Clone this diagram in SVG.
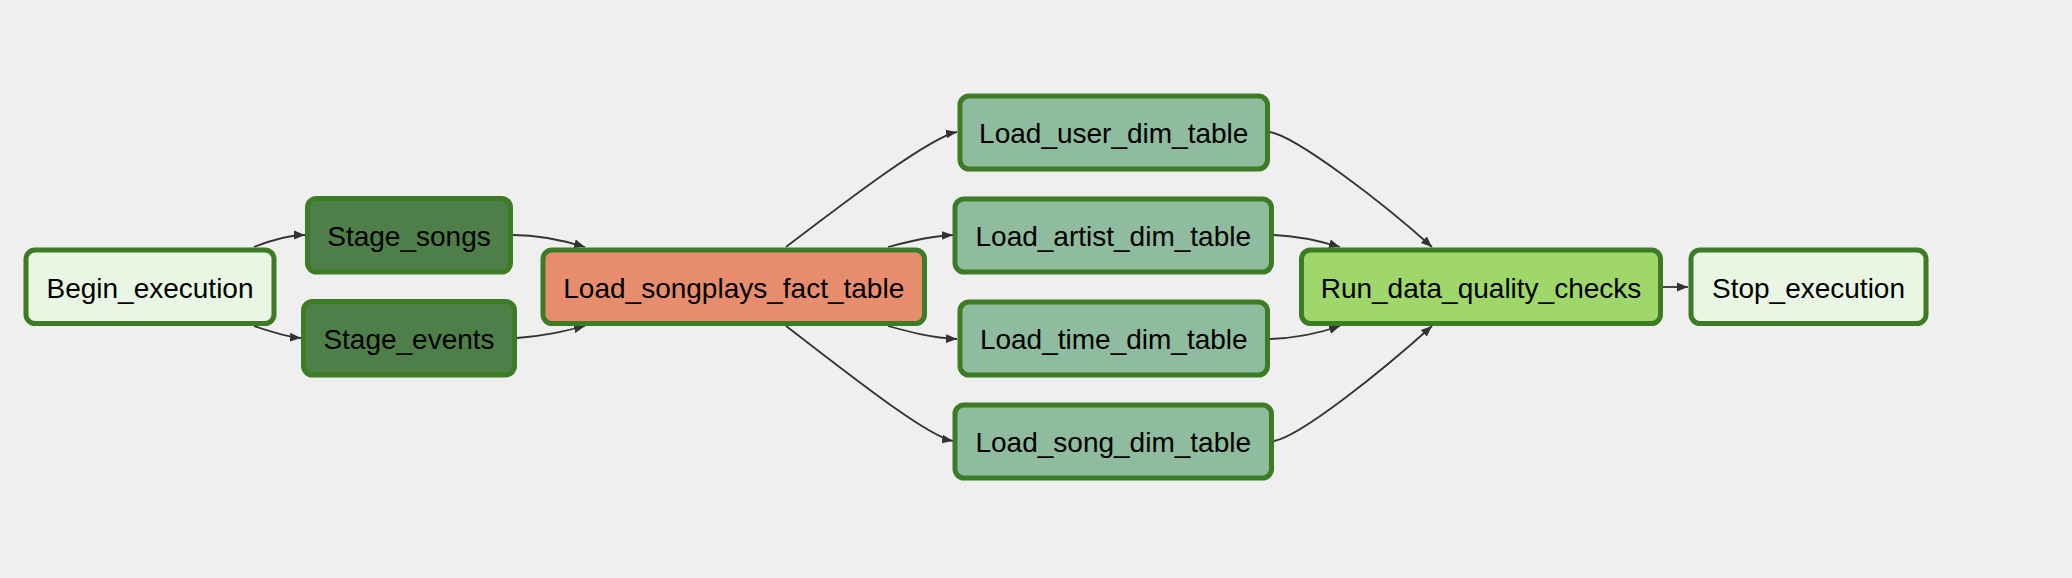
<svg xmlns="http://www.w3.org/2000/svg" width="2072" height="578" viewBox="0 0 2072 578">
<style>
.node rect{stroke:#3c7c24;stroke-width:5}
.node text{font-family:"Liberation Sans",Arial,sans-serif;font-size:28px;fill:#000;text-anchor:middle}
.dummy rect{fill:#e9f6e4}
.stage rect{fill:#4f7f48}
.fact rect{fill:#e88c6e}
.dim rect{fill:#8fbc9e}
.dq rect{fill:#a0d76b}
.edges path{fill:none;stroke:#333;stroke-width:1.8;marker-end:url(#arrow)}
</style>
<defs>
<marker id="arrow" markerUnits="userSpaceOnUse" markerWidth="11" markerHeight="11" viewBox="0 0 10 10" refX="10" refY="5" orient="auto">
<path d="M0,1 L10,5 L0,9 z" fill="#333"/>
</marker>
</defs>
<rect width="2072" height="578" fill="#efefef"/>
<g id="edges" class="edges">
<path d="M254 247 C272 240,288 235,305 235"/>
<path d="M254 326 C272 332,288 337,301 338"/>
<path d="M513 235 C540 235,562 240,585 247"/>
<path d="M517 338 C545 336,565 331,585 326"/>
<path d="M786 247 C845 202,930 137,957 132"/>
<path d="M888 247 C910 241,930 236,953 235"/>
<path d="M888 326 C910 332,932 338,957 339"/>
<path d="M786 326 C845 371,926 436,953 441"/>
<path d="M1270 132 C1297 137,1382 202,1432 247"/>
<path d="M1274 235 C1300 236,1320 241,1340 247"/>
<path d="M1270 339 C1300 338,1320 333,1340 326"/>
<path d="M1274 441 C1301 436,1382 371,1432 326"/>
<path d="M1663 287 L1688 287"/>
</g>
<g id="Begin_execution" class="node dummy"><rect x="26" y="250" width="248" height="73.5" rx="9"/><text x="150" y="297.5">Begin_execution</text></g>
<g id="Stage_songs" class="node stage"><rect x="307.5" y="198.5" width="203" height="73.5" rx="9"/><text x="409" y="246">Stage_songs</text></g>
<g id="Stage_events" class="node stage"><rect x="303.5" y="301.5" width="211" height="73.5" rx="9"/><text x="409" y="349">Stage_events</text></g>
<g id="Load_songplays_fact_table" class="node fact"><rect x="543" y="250" width="381.5" height="73.5" rx="9"/><text x="733.75" y="297.5">Load_songplays_fact_table</text></g>
<g id="Load_user_dim_table" class="node dim"><rect x="960" y="96" width="307.5" height="73" rx="9"/><text x="1113.75" y="143.3">Load_user_dim_table</text></g>
<g id="Load_artist_dim_table" class="node dim"><rect x="955" y="199" width="316.5" height="73" rx="9"/><text x="1113.25" y="246.3">Load_artist_dim_table</text></g>
<g id="Load_time_dim_table" class="node dim"><rect x="960" y="302" width="307.5" height="73" rx="9"/><text x="1113.75" y="349.3">Load_time_dim_table</text></g>
<g id="Load_song_dim_table" class="node dim"><rect x="955" y="405" width="316.5" height="73" rx="9"/><text x="1113.25" y="452.3">Load_song_dim_table</text></g>
<g id="Run_data_quality_checks" class="node dq"><rect x="1301.5" y="250" width="359" height="73.5" rx="9"/><text x="1481" y="297.5">Run_data_quality_checks</text></g>
<g id="Stop_execution" class="node dummy"><rect x="1691" y="250" width="235" height="73.5" rx="9"/><text x="1808.5" y="297.5">Stop_execution</text></g>
</svg>
